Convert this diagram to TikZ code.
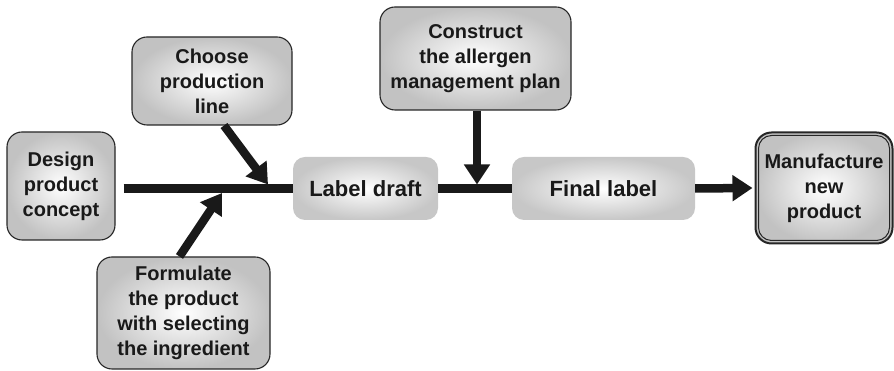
\documentclass[tikz,border=0pt]{standalone}
\usepackage{fontspec}
\setmainfont{Liberation Sans}
\usetikzlibrary{arrows.meta}
\begin{document}
\begin{tikzpicture}[x=1pt,y=1pt,
  box/.style={rounded corners=15pt, shading=radial, inner color=white, outer color=black!24,
    draw=black!85, line width=1.1pt, align=center, text=black!90, inner sep=0pt,
    font=\fontsize{20}{25}\selectfont\bfseries},
  flatbox/.style={rounded corners=12pt, shading=radial, inner color=white, outer color=black!22,
    draw=none, align=center, text=black!90, inner sep=0pt,
    font=\fontsize{22}{26}\selectfont\bfseries},
  mainline/.style={line width=8.5pt, draw=black!90},
  bigarrow/.style={line width=8.5pt, draw=black!90, -{Triangle[length=20pt,width=25pt]}}
]
\useasboundingbox (0,0) rectangle (894,371);

\node[box, minimum width=108pt, minimum height=108pt] (design) at (61,185) {Design\\product\\concept};
\node[box, minimum width=160pt, minimum height=88pt] (choose) at (212,290) {Choose\\production\\line};
\node[box, minimum width=173pt, minimum height=112pt] (form) at (183.5,58) {Formulate\\the product\\with selecting\\the ingredient};
\node[flatbox, minimum width=145pt, minimum height=63pt] (label) at (365.5,182.5) {Label draft};
\node[box, minimum width=191pt, minimum height=103pt] (cons) at (475.5,312.5) {Construct\\the allergen\\management plan};
\node[flatbox, minimum width=183pt, minimum height=63pt] (final) at (603.5,182.5) {Final label};
\node[box, line width=2pt, rounded corners=16pt, minimum width=137pt, minimum height=111pt] (manuf) at (824,183) {Manufacture\\new\\product};
\draw[black!85, line width=1pt, rounded corners=13pt]
  ([shift={(4pt,4pt)}]manuf.south west) rectangle ([shift={(-4pt,-4pt)}]manuf.north east);

\coordinate (jc) at (268,186.5);
\coordinate (jf) at (222,178);
\coordinate (jk) at (477,186.5);

\draw[mainline] ([xshift=8pt]design.east |- label.west) -- (label.west);
\draw[mainline] (label.east) -- (final.west);
\draw[bigarrow] ([xshift=12pt]choose.south) -- (jc);
\draw[bigarrow] ([xshift=-4pt]form.north) -- (jf);
\draw[bigarrow] (cons.south -| jk) -- (jk);
\draw[bigarrow] (final.east) -- ([xshift=-2pt]manuf.west);
\end{tikzpicture}
\end{document}
